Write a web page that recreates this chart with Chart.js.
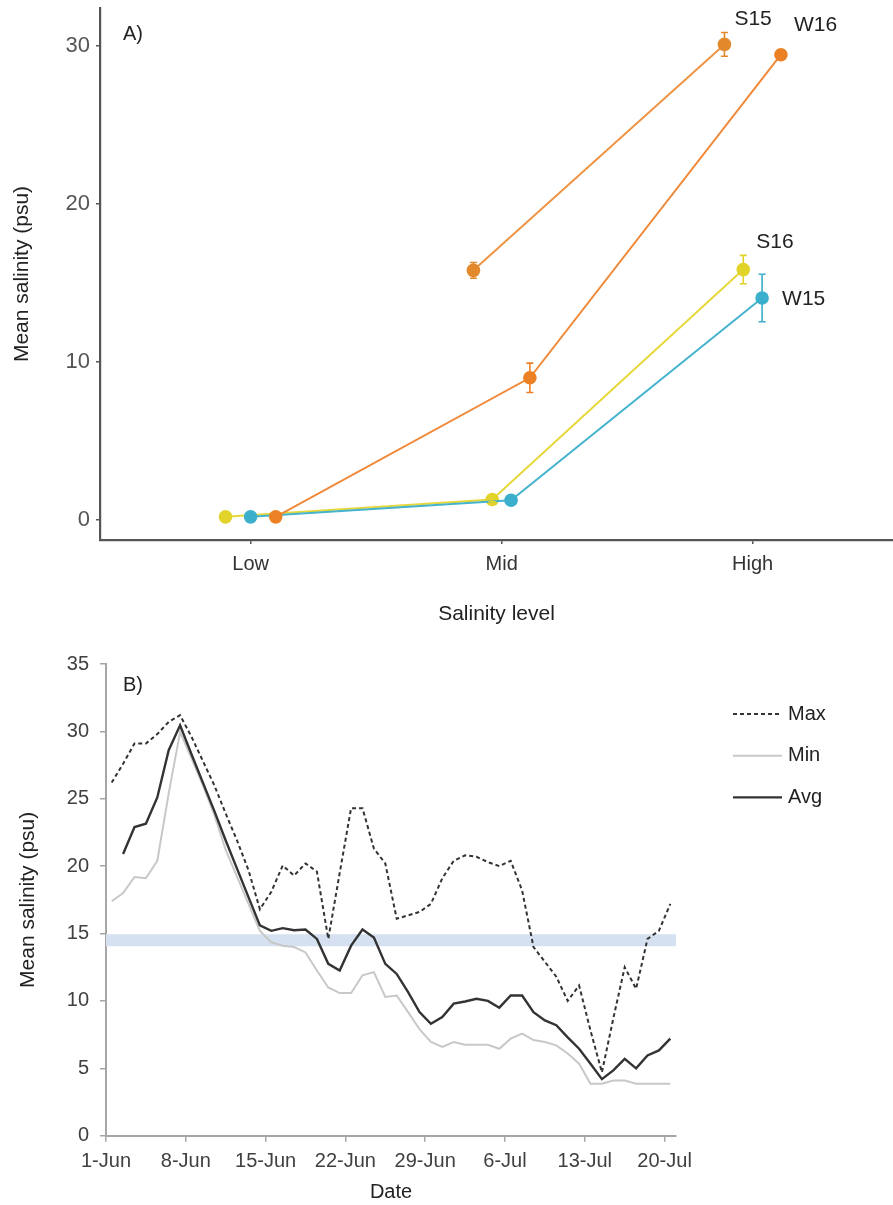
<!DOCTYPE html>
<html><head><meta charset="utf-8">
<script src="https://cdn.jsdelivr.net/npm/chart.js@4.4.0/dist/chart.umd.min.js"></script>
<style>
html,body{margin:0;padding:0;background:#fff;overflow:hidden;width:893px;height:1205px;}
#wrapA{position:absolute;left:0;top:0;width:893px;height:640px;}
#wrapB{position:absolute;left:0;top:640px;width:893px;height:565px;}
canvas{display:block;}
</style></head><body>
<div id="wrapA"><canvas id="chartA" width="893" height="640"></canvas></div>
<div id="wrapB"><canvas id="chartB" width="893" height="565"></canvas></div>
<script>
// ---------- Panel A data ----------
const salinityLevels = ["Low", "Mid", "High"];
const seriesNames = ["S15", "S16", "W15", "W16"];
const s15Mean = [null, 15.8, 30.1];
const s15Err  = [null, 0.5, 0.75];
const s16Mean = [0.2, 1.3, 15.85];
const s16Err  = [0.1, 0.15, 0.9];
const w15Mean = [0.2, 1.25, 14.05];
const w15Err  = [0.1, 0.1, 1.5];
const w16Mean = [0.2, 9.0, 29.45];
const w16Err  = [0.1, 0.93, 0.15];
const yTicksA = [0, 10, 20, 30];

// ---------- Panel B data ----------
const dateTickLabels = ["1-Jun", "8-Jun", "15-Jun", "22-Jun", "29-Jun", "6-Jul", "13-Jul", "20-Jul"];
const maxSalinity = [26.2, 27.6, 29.1, 29.1, 29.8, 30.7, 31.2, 29.6, 27.8, 26.0,
  23.9, 21.9, 19.7, 16.8, 18.1, 20.05, 19.3, 20.2, 19.6, 14.6,
  19.5, 24.3, 24.3, 21.3, 20.2, 16.1, 16.35, 16.6, 17.2, 19.1,
  20.4, 20.8, 20.7, 20.3, 20.0, 20.4, 18.2, 14.0, 12.9, 11.8,
  10.0, 11.15, 7.8, 4.7, 8.7, 12.5, 10.9, 14.6, 15.2, 17.2];
const minSalinity = [17.4, 18.0, 19.2, 19.1, 20.4, 25.4, 29.95, 28.0, 26.0, 23.8,
  21.2, 19.2, 17.2, 15.2, 14.35, 14.1, 14.0, 13.6, 12.26, 11.0,
  10.58, 10.58, 11.9, 12.14, 10.3, 10.4, 9.17, 7.9, 6.95, 6.58,
  6.95, 6.75, 6.75, 6.75, 6.45, 7.2, 7.57, 7.1, 6.95, 6.7,
  6.1, 5.34, 3.85, 3.85, 4.1, 4.1, 3.85, 3.85, 3.85, 3.85];
const avgSalinity = [null, 20.9, 22.9, 23.15, 25.1, 28.6, 30.45, 28.3, 26.2, 24.1,
  21.9, 19.8, 17.7, 15.6, 15.2, 15.4, 15.25, 15.3, 14.6, 12.75,
  12.26, 14.1, 15.3, 14.7, 12.75, 12.0, 10.65, 9.17, 8.3, 8.8,
  9.8, 9.96, 10.16, 10.0, 9.5, 10.4, 10.4, 9.17, 8.55, 8.2,
  7.3, 6.45, 5.34, 4.2, 4.85, 5.7, 5.0, 5.96, 6.33, 7.2];
const bandLow = 14.05;
const bandHigh = 14.95;
const yTicksB = [0, 5, 10, 15, 20, 25, 30, 35];
const legendNames = ["Max", "Min", "Avg"];

// ---------- common ----------
Chart.defaults.font.family = "'Liberation Sans', Arial, Helvetica, sans-serif";
Chart.defaults.animation = false;
const noPad = s => { s.paddingTop = 0; s.paddingBottom = 0; s.paddingLeft = 0; s.paddingRight = 0; };

// ---------- Panel A ----------
const meansA = [s15Mean, s16Mean, w15Mean, w16Mean];
const errsA = [s15Err, s16Err, w15Err, w16Err];
const ptColors = ["#E28A2B", "#E2D32A", "#3BAFCB", "#EC8024"];
const lnColors = ["#EE9445", "#E6D83A", "#45B3CE", "#F08A3A"];
const dodgeWidth = 0.3;
function dodgeX(si, ci) {
  const present = meansA.map((s, k) => s[ci] != null ? k : -1).filter(k => k >= 0);
  const n = present.length, k = present.indexOf(si);
  return ci + 1 + dodgeWidth / n * (k - (n - 1) / 2);
}
const datasetsA = seriesNames.map((name, si) => ({
  label: name,
  data: salinityLevels.map((c, ci) => meansA[si][ci] == null ? null :
    { x: dodgeX(si, ci), y: meansA[si][ci], err: errsA[si][ci] }).filter(p => p),
  borderColor: lnColors[si],
  backgroundColor: ptColors[si],
  pointBackgroundColor: ptColors[si],
  pointBorderWidth: 0,
  pointRadius: 6.8,
  borderWidth: 2,
  clip: false,
  order: seriesNames.length - si
}));

const errorBarPlugin = {
  id: 'errorBars',
  afterDatasetsDraw(chart) {
    const ctx = chart.ctx, xs = chart.scales.x, ys = chart.scales.y;
    chart.data.datasets.forEach(ds => {
      ctx.save();
      ctx.strokeStyle = ds.pointBackgroundColor;
      ctx.lineWidth = 1.6;
      ds.data.forEach(p => {
        if (!p.err) return;
        const px = xs.getPixelForValue(p.x);
        const t = ys.getPixelForValue(p.y + p.err), b = ys.getPixelForValue(p.y - p.err);
        ctx.beginPath();
        ctx.moveTo(px, t); ctx.lineTo(px, b);
        ctx.moveTo(px - 3.5, t); ctx.lineTo(px + 3.5, t);
        ctx.moveTo(px - 3.5, b); ctx.lineTo(px + 3.5, b);
        ctx.stroke();
      });
      ctx.restore();
    });
  }
};
const labelOffsets = { S15: [10, -25], S16: [13, -27], W15: [20, 1], W16: [13, -29] };
const annotA = {
  id: 'annotA',
  afterDraw(chart) {
    const ctx = chart.ctx, ca = chart.chartArea;
    ctx.save();
    ctx.fillStyle = '#222';
    ctx.textBaseline = 'middle';
    ctx.textAlign = 'left';
    ctx.font = "20px 'Liberation Sans', Arial, sans-serif";
    ctx.fillText('A)', ca.left + 23, ca.top + 26);
    ctx.font = "21px 'Liberation Sans', Arial, sans-serif";
    chart.data.datasets.forEach((ds, di) => {
      const meta = chart.getDatasetMeta(di);
      const last = meta.data[meta.data.length - 1];
      const off = labelOffsets[ds.label];
      ctx.fillText(ds.label, last.x + off[0], last.y + off[1]);
    });
    ctx.restore();
  }
};

new Chart(document.getElementById('chartA'), {
  type: 'line',
  data: { datasets: datasetsA },
  options: {
    responsive: false,
    layout: { autoPadding: false, padding: { top: 8, left: 0, right: 0, bottom: 0 } },
    plugins: { legend: { display: false }, tooltip: { enabled: false } },
    scales: {
      x: {
        type: 'linear', min: 0.4, max: 3.559,
        afterBuildTicks: s => { s.ticks = salinityLevels.map((c, i) => ({ value: i + 1 })); },
        afterFit: s => { s.height = 100; noPad(s); },
        ticks: { callback: v => salinityLevels[Math.round(v) - 1], color: '#333',
          font: { size: 20 }, padding: 8, autoSkip: false, maxRotation: 0 },
        grid: { drawOnChartArea: false, drawTicks: true, tickLength: 4, color: '#555', lineWidth: 1.5 },
        border: { display: true, color: '#555', width: 2.2 },
        title: { display: true, text: 'Salinity level', color: '#222', font: { size: 21 },
          padding: { top: 0, bottom: 13 } }
      },
      y: {
        type: 'linear', min: -1.266, max: 32.405,
        afterBuildTicks: s => { s.ticks = yTicksA.map(v => ({ value: v })); },
        afterFit: s => { s.width = 100; noPad(s); },
        ticks: { color: '#555', font: { size: 22 }, padding: 6 },
        grid: { drawOnChartArea: false, drawTicks: true, tickLength: 4, color: '#555', lineWidth: 1.5 },
        border: { display: true, color: '#555', width: 2.2 },
        title: { display: true, text: 'Mean salinity (psu)', color: '#222', font: { size: 21 },
          padding: { top: 10, bottom: 0 } }
      }
    }
  },
  plugins: [errorBarPlugin, annotA]
});

// ---------- Panel B ----------
const toPts = arr => arr.map((v, i) => ({ x: i + 0.5, y: v }));
const legendStyles = [
  { color: '#333', width: 2, dash: [4, 3] },
  { color: '#c8c8c8', width: 2, dash: [] },
  { color: '#333', width: 2.4, dash: [] }
];
const legendB = {
  id: 'legendB',
  afterDraw(chart) {
    const ctx = chart.ctx, ca = chart.chartArea;
    ctx.save();
    ctx.font = "20px 'Liberation Sans', Arial, sans-serif";
    ctx.fillStyle = '#222';
    ctx.textBaseline = 'middle';
    ctx.textAlign = 'left';
    ctx.fillText('B)', ca.left + 17, ca.top + 21);
    legendNames.forEach((name, i) => {
      const y = ca.top + 50 + i * 41.7;
      const st = legendStyles[i];
      ctx.beginPath();
      ctx.strokeStyle = st.color; ctx.lineWidth = st.width; ctx.setLineDash(st.dash);
      ctx.moveTo(ca.right + 57, y); ctx.lineTo(ca.right + 106, y); ctx.stroke();
      ctx.setLineDash([]);
      ctx.fillText(name, ca.right + 112, y);
    });
    ctx.restore();
  }
};

new Chart(document.getElementById('chartB'), {
  type: 'line',
  data: {
    datasets: [
      { label: 'Max', data: toPts(maxSalinity), borderColor: '#333', borderWidth: 2,
        borderDash: [4, 3], pointRadius: 0 },
      { label: 'Avg', data: toPts(avgSalinity), borderColor: '#333', borderWidth: 2.4, pointRadius: 0 },
      { label: 'Min', data: toPts(minSalinity), borderColor: '#c8c8c8', borderWidth: 2, pointRadius: 0 },
      { label: 'bandLow', data: [{ x: 0, y: bandLow }, { x: 50, y: bandLow }], borderWidth: 0,
        pointRadius: 0, fill: false },
      { label: 'bandHigh', data: [{ x: 0, y: bandHigh }, { x: 50, y: bandHigh }], borderWidth: 0,
        pointRadius: 0, fill: '-1', backgroundColor: '#D5E1F0' }
    ]
  },
  options: {
    responsive: false,
    layout: { autoPadding: false, padding: { top: 24, left: 0, right: 217, bottom: 0 } },
    plugins: { legend: { display: false }, tooltip: { enabled: false } },
    scales: {
      x: {
        type: 'linear', min: 0, max: 50,
        afterBuildTicks: s => { s.ticks = dateTickLabels.map((d, i) => ({ value: i * 7 })); },
        afterFit: s => { s.height = 69.3; noPad(s); },
        ticks: { callback: v => dateTickLabels[Math.round(v / 7)], color: '#404040',
          font: { size: 20 }, padding: 8, autoSkip: false, maxRotation: 0 },
        grid: { drawOnChartArea: false, drawTicks: true, tickLength: 6, color: '#a6a6a6', lineWidth: 1.5 },
        border: { display: true, color: '#a6a6a6', width: 2 },
        title: { display: true, text: 'Date', color: '#222', font: { size: 20 },
          padding: { top: 0, bottom: 1 } }
      },
      y: {
        type: 'linear', min: 0, max: 35,
        afterBuildTicks: s => { s.ticks = yTicksB.map(v => ({ value: v })); },
        afterFit: s => { s.width = 106; noPad(s); },
        ticks: { color: '#404040', font: { size: 20 }, padding: 11 },
        grid: { drawOnChartArea: false, drawTicks: true, tickLength: 6, color: '#a6a6a6', lineWidth: 1.5 },
        border: { display: true, color: '#a6a6a6', width: 2 },
        title: { display: true, text: 'Mean salinity (psu)', color: '#222', font: { size: 21 },
          padding: { top: 16, bottom: 0 } }
      }
    }
  },
  plugins: [legendB]
});
</script>
</body></html>
